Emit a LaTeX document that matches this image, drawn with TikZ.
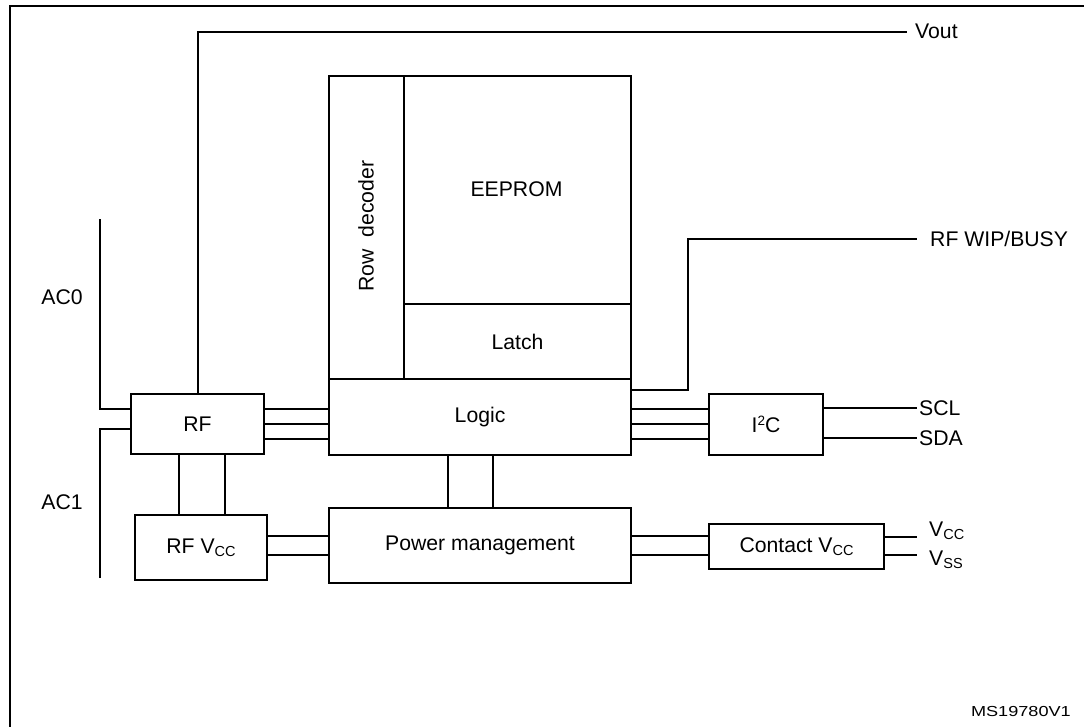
\documentclass[tikz,border=0pt]{standalone}
\usepackage{fontspec}
\setmainfont{Liberation Sans}
\newcommand\mysub[1]{\raisebox{-3.5pt}{\fontsize{14.5}{14.5}\selectfont #1}}
\begin{document}
\begin{tikzpicture}[x=1pt,y=-1pt,
  box/.style={draw, line width=2.1pt, inner sep=0pt, anchor=north west, font=\fontsize{21.2}{24}\selectfont},
  wire/.style={line width=2.1pt},
  lbl/.style={inner sep=0pt, font=\fontsize{21.2}{24}\selectfont}]
\useasboundingbox (0,0) rectangle (1084,726);
\clip (0,0) rectangle (1084,726);
\draw[line width=2.4pt] (10,6) rectangle (1110,760);
% blocks
\node[box, minimum width=75pt, minimum height=303pt] (rowdec) at (328,75) {};
\node[lbl, rotate=90] (rowdectxt) at (366,226) {Row\ \ decoder};
\node[box, minimum width=227pt, minimum height=228pt] (eeprom) at (403,75) {};
\node[lbl] (eepromtxt) at (516.5,189) {EEPROM};
\node[box, minimum width=227pt, minimum height=75pt] (latch) at (403,303) {Latch};
\node[box, minimum width=302pt, minimum height=76pt] (logic) at (328,378) {Logic};
\node[box, minimum width=302pt, minimum height=75pt] (power) at (328,507) {Power management};
\node[box, minimum width=133pt, minimum height=60pt] (rf) at (130,393) {RF};
\node[box, minimum width=132pt, minimum height=65pt] (rfvcc) at (134,514) {RF V\mysub{CC}};
\node[box, minimum width=114pt, minimum height=61pt] (i2c) at (708,393) {I\raisebox{7pt}{\fontsize{13.5}{13.5}\selectfont 2}C};
\node[box, minimum width=175pt, minimum height=45pt] (contact) at (708,523) {Contact V\mysub{CC}};
% level coordinates
\coordinate (yA) at (0,409);
\coordinate (yB) at (0,424);
\coordinate (yC) at (0,439);
\coordinate (yAC1) at (0,429);
\coordinate (yBusy) at (0,390);
\coordinate (yP1) at (0,536);
\coordinate (yP2) at (0,555);
\coordinate (xL1) at (448,0);
\coordinate (xL2) at (493,0);
\coordinate (xR1) at (179,0);
\coordinate (xR2) at (225,0);
% free ends
\coordinate (vout) at (907,32);
\coordinate (ac0top) at (100,219);
\coordinate (ac1bot) at (100,578);
\coordinate (busyx) at (688,239);
\coordinate (busyend) at (917,239);
\coordinate (scl) at (917,408);
\coordinate (sda) at (917,438);
\coordinate (vcc) at (917,537);
\coordinate (vss) at (917,555);
% connectors
\draw[wire] (rf.north) |- (vout);
\draw[wire] (ac0top) |- (rf.west |- yA);
\draw[wire] (ac1bot) |- (rf.west |- yAC1);
\foreach \y in {yA,yB,yC} {
  \draw[wire] (rf.east |- \y) -- (logic.west |- \y);
  \draw[wire] (logic.east |- \y) -- (i2c.west |- \y);
}
\draw[wire] (logic.east |- yBusy) -| (busyx) -- (busyend);
\draw[wire] (i2c.east |- scl) -- (scl);
\draw[wire] (i2c.east |- sda) -- (sda);
\foreach \x in {xL1,xL2} \draw[wire] (logic.south -| \x) -- (power.north -| \x);
\foreach \x in {xR1,xR2} \draw[wire] (rf.south -| \x) -- (rfvcc.north -| \x);
\foreach \y in {yP1,yP2} {
  \draw[wire] (rfvcc.east |- \y) -- (power.west |- \y);
  \draw[wire] (power.east |- \y) -- (contact.west |- \y);
}
\draw[wire] (contact.east |- vcc) -- (vcc);
\draw[wire] (contact.east |- vss) -- (vss);
% labels
\node[lbl, anchor=west] (voutl) at (915,31) {Vout};
\node[lbl, anchor=west] (busyl) at (930,239) {RF WIP/BUSY};
\node[lbl, anchor=west] (scll) at (919,408) {SCL};
\node[lbl, anchor=west] (sdal) at (919,438) {SDA};
\node[lbl, anchor=west] (vccl) at (929,531) {V\mysub{CC}};
\node[lbl, anchor=west] (vssl) at (929,560) {V\mysub{SS}};
\node[lbl] (ac0l) at (62,297) {AC0};
\node[lbl] (ac1l) at (62,502) {AC1};
\node[inner sep=0pt, anchor=east] (ms) at (1071,711) {\scalebox{1.25}[1]{\fontsize{14.5}{16}\selectfont MS19780V1}};
\end{tikzpicture}
\end{document}
